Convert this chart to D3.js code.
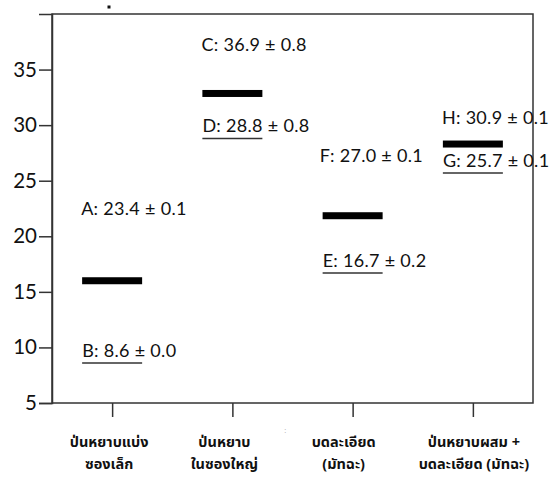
<!DOCTYPE html>
<html>
<head>
<meta charset="utf-8">
<script src="https://cdn.jsdelivr.net/npm/d3@7"></script>
<style>
  body { margin: 0; background: #fff; }
  svg { display: block; }
</style>
</head>
<body>
<div id="chart"></div>
<script>
// data
const categories = [
  ["ป่นหยาบแบ่ง", "ซองเล็ก"],
  ["ป่นหยาบ", "ในซองใหญ่"],
  ["บดละเอียด", "(มัทฉะ)"],
  ["ป่นหยาบผสม +", "บดละเอียด (มัทฉะ)"]
]
const barValues = [16.0, 32.85, 21.85, 28.3]
const upperNames = ["A", "C", "F", "H"]
const upperValues = [23.4, 36.9, 27.0, 30.9]
const upperErrors = [0.1, 0.8, 0.1, 0.1]
const lowerNames = ["B", "D", "E", "G"]
const lowerValues = [8.6, 28.8, 16.7, 25.7]
const lowerErrors = [0.0, 0.8, 0.2, 0.1]
const yTicks = [5, 10, 15, 20, 25, 30, 35]

// layout
const W = 553, H = 477
const margin = { top: 14, right: 20, bottom: 74, left: 52 }
const upperNudge = [17, 3, 4, 8.5]   // px below the value, for the upper labels
const upperDx = [-1, -1, -3, -1]
const catDx = [-3, -8, -9, 1]
const barW = 60
const fontNum = "Lato, 'Open Sans', sans-serif"

const svg = d3.select("#chart").append("svg")
  .attr("width", W)
  .attr("height", H)

const x = d3.scalePoint()
  .domain(d3.range(categories.length))
  .range([margin.left, W - margin.right])
  .padding(0.5)

const y = d3.scaleLinear()
  .domain([5, 40])
  .range([H - margin.bottom, margin.top])

const fmt = d3.format(".1f")

// frame
svg.append("rect")
  .attr("x", margin.left)
  .attr("y", margin.top)
  .attr("width", W - margin.left - margin.right)
  .attr("height", H - margin.top - margin.bottom)
  .attr("fill", "none")
  .attr("stroke", "#333")
  .attr("stroke-width", 1.5)

// y axis
const yAxis = svg.append("g")
  .attr("transform", "translate(" + margin.left + ",0)")
  .call(d3.axisLeft(y).tickValues(yTicks).tickSize(13).tickPadding(2))
yAxis.select(".domain").attr("stroke", "#333").attr("stroke-width", 1.5)
yAxis.selectAll(".tick line").attr("stroke", "#333").attr("stroke-width", 1.5)
yAxis.selectAll(".tick text")
  .attr("font-family", fontNum)
  .attr("font-size", 20.5)
  .attr("fill", "#111")

// x axis ticks (labels drawn separately on two lines)
const xAxis = svg.append("g")
  .attr("transform", "translate(0," + (H - margin.bottom) + ")")
  .call(d3.axisBottom(x).tickSize(14).tickFormat(""))
xAxis.select(".domain").remove()
xAxis.selectAll(".tick line").attr("stroke", "#333").attr("stroke-width", 1.5)

const catG = svg.append("g")
  .attr("font-family", "'Noto Sans Thai', Tahoma, sans-serif")
  .attr("font-size", 14.5)
  .attr("font-weight", "bold")
  .attr("fill", "#111")
  .attr("text-anchor", "middle")
categories.forEach((lines, i) => {
  lines.forEach((t, j) => {
    catG.append("text")
      .attr("x", x(i) + catDx[i])
      .attr("y", H - margin.bottom + 44 + j * 22)
      .text(t)
  })
})

// thick bars
svg.append("g").selectAll("rect")
  .data(barValues)
  .enter().append("rect")
  .attr("x", (d, i) => x(i) - barW / 2)
  .attr("y", d => y(d) - 3.5)
  .attr("width", barW)
  .attr("height", 7)
  .attr("fill", "#000")

// thin lines at the lower values
svg.append("g").selectAll("line")
  .data(lowerValues)
  .enter().append("line")
  .attr("x1", (d, i) => x(i) - barW / 2)
  .attr("x2", (d, i) => x(i) + barW / 2)
  .attr("y1", d => y(d))
  .attr("y2", d => y(d))
  .attr("stroke", "#333")
  .attr("stroke-width", 1.5)

const labG = svg.append("g")
  .attr("font-family", fontNum)
  .attr("font-size", 18)
  .attr("letter-spacing", 0.3)
  .attr("fill", "#111")

labG.selectAll("text.upper")
  .data(upperValues)
  .enter().append("text")
  .attr("class", "upper")
  .attr("x", (d, i) => x(i) - barW / 2 + upperDx[i])
  .attr("y", (d, i) => y(d) + upperNudge[i])
  .text((d, i) => upperNames[i] + ": " + fmt(d) + " ± " + fmt(upperErrors[i]))

labG.selectAll("text.lower")
  .data(lowerValues)
  .enter().append("text")
  .attr("class", "lower")
  .attr("x", (d, i) => x(i) - barW / 2)
  .attr("y", d => y(d) - 6)
  .text((d, i) => lowerNames[i] + ": " + fmt(d) + " ± " + fmt(lowerErrors[i]))

// stray marks in the original image
svg.append("rect").attr("x", 107.5).attr("y", 5.5).attr("width", 3).attr("height", 3).attr("fill", "#111")
svg.append("text").attr("x", 284).attr("y", 433).attr("font-size", 9).attr("fill", "#aaa").text(":")
</script>
</body>
</html>
